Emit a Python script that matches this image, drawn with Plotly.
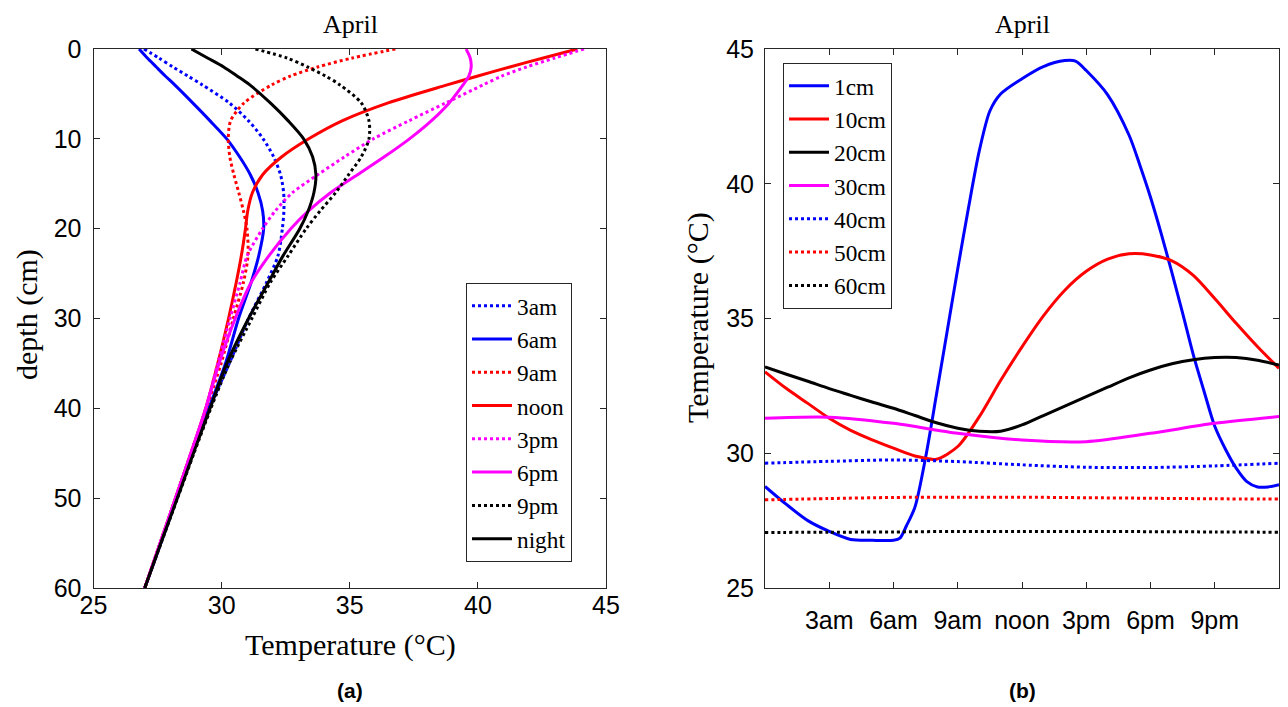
import plotly.graph_objects as go

# ---------------- (a) depth profiles ----------------
depth = [0, 1, 2, 3, 4, 6, 8, 10, 12, 14, 16, 18, 20, 23, 26, 30, 35, 40, 45, 50, 55, 60]

t_3am = [26.97, 27.55, 28.10, 28.68, 29.25, 30.30, 31.05, 31.62, 32.03, 32.30, 32.42, 32.43, 32.37, 32.20, 31.75, 31.05, 30.30, 29.52, 28.87, 28.25, 27.63, 27.00]
t_6am = [26.78, 27.10, 27.45, 27.80, 28.17, 28.87, 29.55, 30.20, 30.70, 31.12, 31.42, 31.60, 31.64, 31.45, 31.15, 30.66, 30.15, 29.50, 28.85, 28.25, 27.62, 27.00]
t_9am = [36.78, 35.10, 33.75, 32.70, 31.95, 30.88, 30.35, 30.26, 30.32, 30.48, 30.67, 30.85, 30.99, 31.03, 30.85, 30.46, 29.98, 29.40, 28.80, 28.20, 27.60, 27.00]
t_noon = [43.88, 42.55, 41.25, 40.00, 38.80, 36.50, 34.70, 33.40, 32.35, 31.60, 31.20, 31.02, 30.93, 30.77, 30.57, 30.27, 29.85, 29.38, 28.80, 28.20, 27.60, 27.00]
t_3pm = [44.14, 43.00, 41.90, 40.95, 40.20, 38.75, 37.30, 35.92, 34.80, 33.75, 32.76, 32.10, 31.60, 31.00, 30.72, 30.33, 29.85, 29.38, 28.80, 28.20, 27.60, 27.00]
t_6pm = [39.54, 39.70, 39.74, 39.65, 39.42, 38.88, 38.18, 37.33, 36.35, 35.30, 34.25, 33.40, 32.70, 31.85, 31.15, 30.53, 29.90, 29.38, 28.80, 28.20, 27.60, 27.00]
t_9pm = [31.32, 32.55, 33.35, 34.05, 34.62, 35.45, 35.75, 35.75, 35.45, 34.95, 34.45, 33.85, 33.30, 32.60, 31.90, 31.18, 30.30, 29.58, 28.92, 28.28, 27.64, 27.00]
t_night = [28.82, 29.45, 30.08, 30.60, 31.10, 31.90, 32.60, 33.20, 33.55, 33.68, 33.60, 33.38, 33.05, 32.40, 31.82, 31.05, 30.20, 29.55, 28.90, 28.27, 27.63, 27.00]

profile_names = ["3am", "6am", "9am", "noon", "3pm", "6pm", "9pm", "night"]
profile_values = [t_3am, t_6am, t_9am, t_noon, t_3pm, t_6pm, t_9pm, t_night]
profile_colors = ["#0000ff", "#0000ff", "#ff0000", "#ff0000", "#ff00ff", "#ff00ff", "#000000", "#000000"]
profile_dash = ["dot", "solid", "dot", "solid", "dot", "solid", "dot", "solid"]

depth_ticks = [0, 10, 20, 30, 40, 50, 60]
temp_ticks_a = [25, 30, 35, 40, 45]

# ---------------- (b) daily cycles ----------------
hours_1cm = [0, 1, 2, 3, 4, 5, 6, 6.3, 6.6, 7, 7.5, 8, 8.5, 9, 9.5, 10, 10.5, 11, 12, 13, 14, 14.5, 15, 16, 17,
             17.5, 18, 18.5, 19, 19.5, 20, 20.5, 21, 21.5, 22, 22.5, 23, 23.5, 24]
t_1cm = [28.77, 28.10, 27.50, 27.10, 26.80, 26.77, 26.77, 26.85, 27.30, 28.00, 29.85, 32.15, 34.50, 36.85, 39.10,
         41.20, 42.70, 43.33, 43.90, 44.35, 44.57, 44.55, 44.20, 43.30, 41.80, 40.70, 39.50, 38.15, 36.70, 35.20,
         33.65, 32.30, 31.00, 30.15, 29.45, 28.95, 28.75, 28.75, 28.83]

hours = list(range(25))
t_10cm = [33.02, 32.40, 31.85, 31.30, 30.85, 30.50, 30.19, 29.90, 29.78, 30.25, 31.35, 32.70, 33.95, 35.10, 36.05,
          36.75, 37.20, 37.40, 37.36, 37.14, 36.60, 35.74, 34.82, 33.95, 33.15]
t_20cm = [33.20, 32.93, 32.67, 32.40, 32.15, 31.90, 31.67, 31.40, 31.13, 30.93, 30.82, 30.82, 31.05, 31.40, 31.75,
          32.10, 32.45, 32.80, 33.09, 33.32, 33.47, 33.55, 33.55, 33.45, 33.27]

hours3 = [0, 3, 6, 9, 12, 15, 18, 21, 24]
t_30cm = [31.30, 31.34, 31.11, 30.74, 30.49, 30.43, 30.74, 31.11, 31.36]
t_40cm = [29.63, 29.70, 29.75, 29.69, 29.57, 29.48, 29.47, 29.53, 29.63]
t_50cm = [28.27, 28.32, 28.36, 28.37, 28.37, 28.35, 28.33, 28.31, 28.30]
t_60cm = [27.06, 27.07, 27.08, 27.10, 27.10, 27.10, 27.09, 27.08, 27.07]

cycle_names = ["1cm", "10cm", "20cm", "30cm", "40cm", "50cm", "60cm"]
cycle_x = [hours_1cm, hours, hours, hours3, hours3, hours3, hours3]
cycle_values = [t_1cm, t_10cm, t_20cm, t_30cm, t_40cm, t_50cm, t_60cm]
cycle_colors = ["#0000ff", "#ff0000", "#000000", "#ff00ff", "#0000ff", "#ff0000", "#000000"]
cycle_dash = ["solid", "solid", "solid", "solid", "dot", "dot", "dot"]

time_tickvals = [3, 6, 9, 12, 15, 18, 21]
time_ticktext = ["3am", "6am", "9am", "noon", "3pm", "6pm", "9pm"]
temp_ticks_b = [25, 30, 35, 40, 45]

SERIF = "Liberation Serif, Times New Roman, serif"
SANS = "Liberation Sans, Arial, Helvetica, sans-serif"
AXIS_COLOR = "#262626"

fig = go.Figure()

for name, vals, col, dash in zip(profile_names, profile_values, profile_colors, profile_dash):
    fig.add_trace(go.Scatter(
        x=vals, y=depth, mode="lines", name=name,
        line=dict(color=col, width=3, dash=dash, shape="spline", smoothing=0.8),
        xaxis="x", yaxis="y", legend="legend"))

for name, xs, vals, col, dash in zip(cycle_names, cycle_x, cycle_values, cycle_colors, cycle_dash):
    fig.add_trace(go.Scatter(
        x=xs, y=vals, mode="lines", name=name,
        line=dict(color=col, width=3, dash=dash, shape="spline", smoothing=0.8),
        xaxis="x2", yaxis="y2", legend="legend2"))

# the page body adds an 8px offset; the figure covers window pixels 8..1288 x 8..707
OFF = 8
W, H = 1288 - OFF, 707 - OFF
def px(x):
    return (x - OFF) / W
def py(y):
    return 1 - (y - OFF) / H

axis_common = dict(
    showline=True, linecolor=AXIS_COLOR, linewidth=1, mirror="allticks",
    ticks="inside", ticklen=6, tickcolor=AXIS_COLOR, tickwidth=1,
    showgrid=False, zeroline=False, automargin=False,
    tickfont=dict(family=SANS, size=25, color="black"),
)

fig.update_layout(
    width=W, height=H,
    margin=dict(l=0, r=0, t=0, b=0, pad=0, autoexpand=False),
    paper_bgcolor="white", plot_bgcolor="white",
    xaxis=dict(domain=[px(93.5), px(606)], range=[25, 45], tickvals=temp_ticks_a,
               anchor="y", ticklabelstandoff=-5, **axis_common),
    yaxis=dict(domain=[py(588), py(49)], range=[60, 0], tickvals=depth_ticks,
               anchor="x", ticklabelstandoff=6, **axis_common),
    xaxis2=dict(domain=[px(765), px(1279)], range=[0, 24], tickvals=time_tickvals,
                ticktext=time_ticktext, anchor="y2", ticklabelstandoff=10, **axis_common),
    yaxis2=dict(domain=[py(588), py(49)], range=[25, 45], tickvals=temp_ticks_b,
                anchor="x2", ticklabelstandoff=5, **axis_common),
    legend=dict(x=px(466), y=py(283), xanchor="left", yanchor="top",
                bgcolor="white", bordercolor=AXIS_COLOR, borderwidth=1,
                font=dict(family=SERIF, size=23.3, color="black"), itemwidth=40,
                tracegroupgap=0),
    legend2=dict(x=px(783), y=py(63), xanchor="left", yanchor="top",
                 bgcolor="white", bordercolor=AXIS_COLOR, borderwidth=1,
                 font=dict(family=SERIF, size=23.3, color="black"), itemwidth=40,
                 tracegroupgap=0),
    showlegend=True,
)

annotations = [
    dict(text="April", x=px(350), y=1, yanchor="top", font=dict(family=SERIF, size=26, color="black")),
    dict(text="April", x=px(1022), y=1, yanchor="top", font=dict(family=SERIF, size=26, color="black")),
    dict(text="Temperature (°C)", x=px(350), y=py(645), font=dict(family=SERIF, size=30, color="black")),
    dict(text="depth (cm)", x=px(27), y=py(315), textangle=-90, font=dict(family=SERIF, size=30, color="black")),
    dict(text="Temperature (°C)", x=px(698), y=py(318), textangle=-90, font=dict(family=SERIF, size=30, color="black")),
    dict(text="<b>(a)</b>", x=px(350), y=py(690), font=dict(family=SANS, size=21, color="black")),
    dict(text="<b>(b)</b>", x=px(1022), y=py(690), font=dict(family=SANS, size=21, color="black")),
]
for a in annotations:
    a.setdefault("yanchor", "middle")
    a.update(xref="paper", yref="paper", showarrow=False, xanchor="center")
fig.update_layout(annotations=annotations)

fig.write_html("out.html")
